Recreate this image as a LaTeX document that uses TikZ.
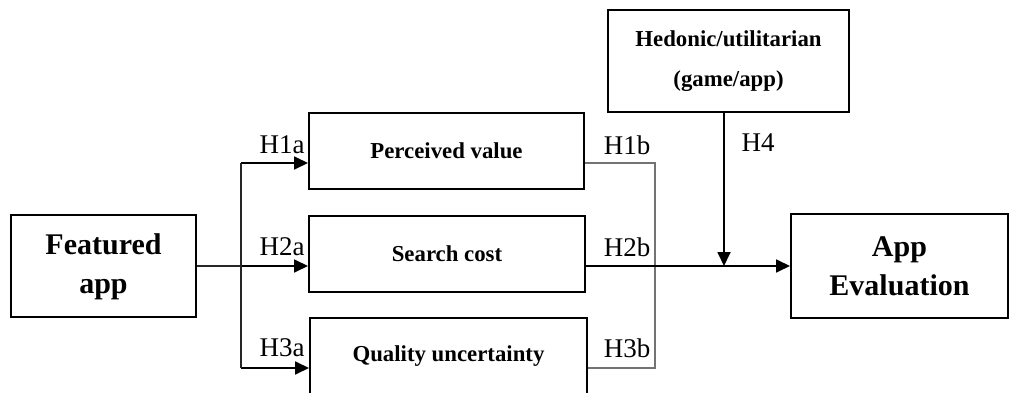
\documentclass[tikz,border=0pt]{standalone}
\usepackage{fontspec}
\setmainfont{Liberation Serif}
\usepackage{tikz}
\usetikzlibrary{arrows.meta,positioning}

\begin{document}
\begin{tikzpicture}[x=1pt,y=-1pt,
  box/.style={draw,line width=2pt,align=center,inner sep=0pt,font=\bfseries\fontsize{22.8}{40}\selectfont},
  bigbox/.style={box,font=\bfseries\fontsize{30}{39}\selectfont},
  hyp/.style={font=\fontsize{27}{30}\selectfont,inner sep=0pt},
  arr/.style={line width=1.8pt,-{Triangle[length=14pt,width=13pt]}},
  link/.style={line width=1.2pt,draw=black!85},
  back/.style={line width=1.2pt,draw=black!55}]
\useasboundingbox (0,0) rectangle (1010,393);
% boxes
\node[bigbox,minimum width=185pt,minimum height=102pt] (fa) at (103.5,266) {\raisebox{-4pt}{\begin{tabular}{@{}c@{}}Featured\\app\end{tabular}}};
\node[box,minimum width=275pt,minimum height=76pt] (pv) at (446.5,151) {Perceived value};
\node[box,minimum width=276pt,minimum height=76pt] (sc) at (447,254) {Search cost};
\node[box,minimum width=277pt,minimum height=76pt] (qu) at (448.5,356) {Quality uncertainty};
\node[box,minimum width=241pt,minimum height=102pt] (he) at (728.5,61) {Hedonic/utilitarian\\(game/app)};
\node[bigbox,minimum width=217pt,minimum height=104pt] (ae) at (899.5,266) {App\\Evaluation};
% branch and join points
\coordinate (pvin) at ([yshift=-12pt]pv.west);
\coordinate (quin) at ([yshift=-12pt]qu.west);
\coordinate (pvout) at ([yshift=-12pt]pv.east);
\coordinate (scout) at ([yshift=-12pt]sc.east);
\coordinate (quout) at ([yshift=-12pt]qu.east);
\coordinate (br) at (241,266);
\coordinate (jn) at (655,266);
\coordinate (mod) at (724,266);
% connectors
\draw[link] (fa.east) -- (br);
\draw[arr] (br) -- ([yshift=-12pt]sc.west);
\draw[arr] (br |- pvin) -- (pvin);
\draw[arr] (br |- quin) -- (quin);
\draw[link,line width=1.8pt] (br |- pvin) -- (br |- quin);
\draw[back] (pvout) -| (jn) |- (quout);
\draw[arr,-] (scout) -- (mod);
\draw[arr] (mod) -- (ae.west);
\draw[arr] (mod |- he.south) -- (mod);
% labels
\node[hyp] (h1a) at (282,145) {H1a};
\node[hyp] (h2a) at (282,247) {H2a};
\node[hyp] (h3a) at (282,348) {H3a};
\node[hyp] (h1b) at (627,145) {H1b};
\node[hyp] (h2b) at (627,247) {H2b};
\node[hyp] (h3b) at (627,348) {H3b};
\node[hyp] (h4) at (758,143) {H4};
\end{tikzpicture}
\end{document}
